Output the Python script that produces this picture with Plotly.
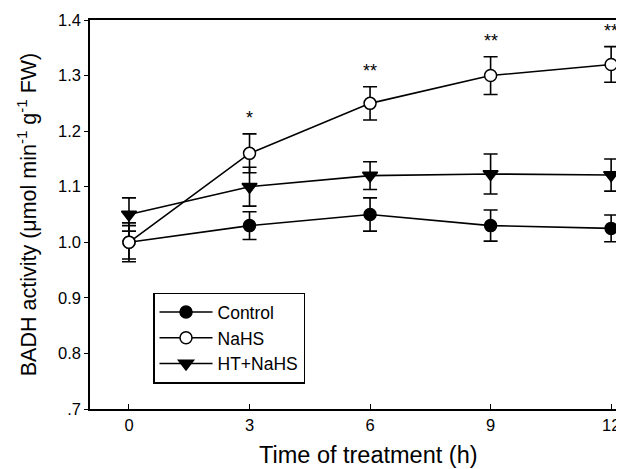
import plotly.graph_objects as go

time_h = [0, 3, 6, 9, 12]
control = [1.00, 1.03, 1.05, 1.03, 1.025]
control_err = [0.03, 0.025, 0.03, 0.028, 0.024]
nahs = [1.00, 1.16, 1.25, 1.30, 1.32]
nahs_err = [0.035, 0.035, 0.03, 0.034, 0.032]
ht_nahs = [1.05, 1.10, 1.12, 1.123, 1.121]
ht_nahs_err = [0.03, 0.035, 0.025, 0.036, 0.029]
stars = ["", "*", "**", "**", "**"]
y_tickvals = [0.7, 0.8, 0.9, 1.0, 1.1, 1.2, 1.3, 1.4]
y_ticktext = [".7", "0.8", "0.9", "1.0", "1.1", "1.2", "1.3", "1.4"]
x_tickvals = [0, 3, 6, 9, 12]
x_title = "Time of treatment (h)"
y_title = "BADH activity (\u03bcmol min<sup>-1</sup> g<sup>-1</sup> FW)"

FONT = "Liberation Sans, Arial, sans-serif"

fig = go.Figure()

def add(name, y, err, symbol, fill):
    fig.add_trace(go.Scatter(
        x=time_h, y=y, name=name, mode="lines+markers", cliponaxis=False,
        line=dict(color="black", width=1.6),
        marker=dict(symbol=symbol, size=12 if symbol != "triangle-down" else 13,
                    color=fill, line=dict(color="black", width=1.5)),
        error_y=dict(type="data", array=err, visible=True, color="black",
                     thickness=1.6, width=7),
    ))

add("Control", control, control_err, "circle", "black")
add("NaHS", nahs, nahs_err, "circle", "white")
add("HT+NaHS", ht_nahs, ht_nahs_err, "triangle-down", "black")

for t, v, e, s in zip(time_h, nahs, nahs_err, stars):
    if s:
        fig.add_annotation(x=t, y=v + e, text=s, showarrow=False,
                           yanchor="bottom", yshift=4,
                           font=dict(family=FONT, size=18, color="black"))

# x-axis title (slightly right of the plot centre, as in the original)
fig.add_annotation(xref="paper", yref="paper", x=0.5206, y=-0.117,
                   xanchor="center", yanchor="middle", showarrow=False,
                   text=x_title, font=dict(family=FONT, size=23.5, color="black"))

# the page body has an 8px margin, so the figure is drawn 8px in and 8px down
fig.update_layout(
    width=616, height=461,
    margin=dict(l=82, r=0, t=12, b=60),
    paper_bgcolor="white", plot_bgcolor="white",
    font=dict(family=FONT, size=17, color="black"),
    showlegend=True,
    legend=dict(x=0.118, y=0.299, xanchor="left", yanchor="top",
                bordercolor="black", borderwidth=1.5, bgcolor="white",
                font=dict(family=FONT, size=17.5, color="black"),
                itemwidth=53, tracegroupgap=0),
    xaxis=dict(range=[-0.97, 12.32], tickvals=x_tickvals, automargin=False,
               showline=True, linecolor="black", linewidth=1.5, mirror=True,
               ticks="inside", ticklen=5, tickcolor="black", tickwidth=1,
               showgrid=False, zeroline=False,
               tickfont=dict(family=FONT, size=16.5)),
    yaxis=dict(range=[0.7, 1.4], tickvals=y_tickvals, ticktext=y_ticktext,
               automargin=False,
               showline=True, linecolor="black", linewidth=1.5,
               ticks="outside", ticklen=4, tickcolor="black", tickwidth=1,
               showgrid=False, zeroline=False,
               tickfont=dict(family=FONT, size=16.5),
               title=dict(text=y_title,
                          font=dict(family=FONT, size=21.5), standoff=15)),
)

fig.write_html("out.html")
